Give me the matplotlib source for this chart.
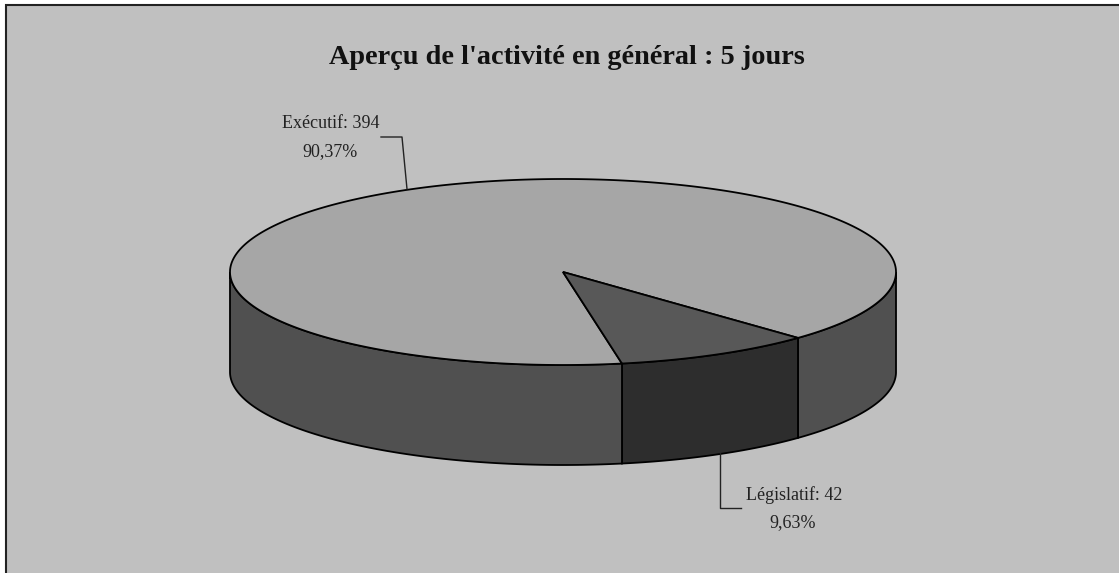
import matplotlib
matplotlib.use("Agg")
import matplotlib.pyplot as plt
import numpy as np
from matplotlib.patches import Polygon

categories = ["Exécutif", "Législatif"]
values = [394, 42]
pct_labels = ["90,37%", "9,63%"]
title = "Aperçu de l'activité en général : 5 jours"

W, H = 1119, 573
cx, cy, rx, ry = 563, 272, 333, 93
depth = 100

plt.rcParams['font.family'] = ['Liberation Serif', 'DejaVu Serif']

fig = plt.figure(figsize=(W / 100, H / 100), dpi=100, facecolor='white')
ax = fig.add_axes([0, 0, 1, 1])
ax.set_xlim(0, W)
ax.set_ylim(H, 0)
ax.axis('off')

# fond + cadre (bords droit et bas coupés par l'image)
ax.add_patch(plt.Rectangle((5.5, 5), W + 20, H + 20, fc='#c0c0c0', ec='#222222', lw=1.5))


def ell(a):
    a = np.radians(a)
    return cx + rx * np.cos(a), cy + ry * np.sin(a)


def wall(a0, a1, color):
    t = np.linspace(a0, a1, 200)
    x, y = ell(t)
    pts = np.r_[np.c_[x, y], np.c_[x[::-1], y[::-1] + depth]]
    ax.add_patch(Polygon(pts, fc=color, ec='black', lw=1.3))


def top(a0, a1, color):
    t = np.linspace(a0, a1, 400)
    x, y = ell(t)
    pts = np.r_[[[cx, cy]], np.c_[x, y]]
    ax.add_patch(Polygon(pts, fc=color, ec='black', lw=1.3))


# angles de la tranche législative (sens de lecture écran)
span = 360 * values[1] / sum(values)
a_start = 79.8
a_end = a_start - span

wall(0, a_end, '#505050')
wall(a_end, a_start, '#2d2d2d')
wall(a_start, 180, '#505050')
top(a_start, 360 + a_end, '#a6a6a6')
top(a_end, a_start, '#585858')

# titre
ax.text(567, 58, title, fontsize=20.3, fontweight='bold', ha='center', va='center', color='#111111')

# étiquettes
ax.text(331, 124, f"{categories[0]}: {values[0]}", fontsize=13, ha='center', va='center', color='#222222')
ax.text(330, 152, pct_labels[0], fontsize=13, ha='center', va='center', color='#222222')
ax.plot([381, 402, 407], [137, 137, 189], color='#222222', lw=1)

ax.text(794, 495, f"{categories[1]}: {values[1]}", fontsize=13, ha='center', va='center', color='#222222')
ax.text(793, 523, pct_labels[1], fontsize=13, ha='center', va='center', color='#222222')
ax.plot([741, 720, 720], [508, 508, 453], color='#222222', lw=1)

fig.savefig("out.png", dpi=100, facecolor='white')
